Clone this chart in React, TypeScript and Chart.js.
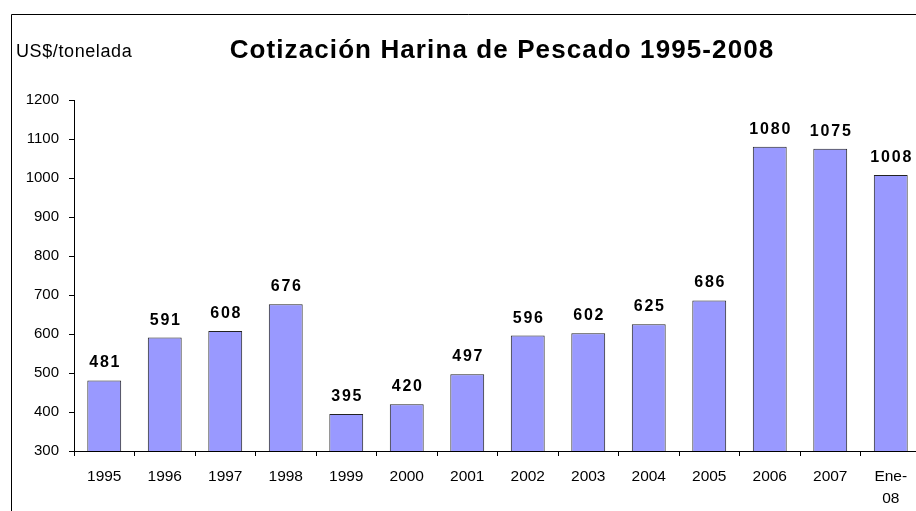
import React, { useEffect, useRef } from "react";
import { Chart, registerables } from "chart.js";

Chart.register(...registerables);

const categories: (string | string[])[] = [
  "1995", "1996", "1997", "1998", "1999", "2000", "2001",
  "2002", "2003", "2004", "2005", "2006", "2007", ["Ene-", "08"],
];
const prices: number[] = [481, 591, 608, 676, 395, 420, 497, 596, 602, 625, 686, 1080, 1075, 1008];
const yMin = 300;
const yMax = 1200;
const yStep = 100;
const titleText = "Cotización Harina de Pescado 1995-2008";
const unitText = "US$/tonelada";

const FONT = "'Liberation Sans', Arial, sans-serif";

const overlayPlugin = {
  id: "overlay",
  afterDatasetsDraw(chart: any) {
    const ctx = chart.ctx as CanvasRenderingContext2D;
    const meta = chart.getDatasetMeta(0);
    ctx.save();
    ctx.fillStyle = "#000";
    ctx.font = `bold 16px ${FONT}`;
    (ctx as any).letterSpacing = "1.8px";
    ctx.textAlign = "center";
    ctx.textBaseline = "alphabetic";
    meta.data.forEach((bar: any, i: number) => {
      ctx.fillText(String(prices[i]), bar.x + 1, bar.y - 13);
    });
    ctx.restore();
  },
  afterDraw(chart: any) {
    const ctx = chart.ctx as CanvasRenderingContext2D;
    ctx.save();
    // frame
    ctx.strokeStyle = "#000";
    ctx.lineWidth = 1;
    ctx.beginPath();
    ctx.moveTo(11.5, 520);
    ctx.lineTo(11.5, 14.5);
    ctx.lineTo(930, 14.5);
    ctx.stroke();
    // title
    ctx.fillStyle = "#000";
    ctx.font = `bold 26px ${FONT}`;
    (ctx as any).letterSpacing = "1.1px";
    ctx.textAlign = "left";
    ctx.textBaseline = "alphabetic";
    const w = ctx.measureText(titleText).width;
    ctx.fillText(titleText, 502 - w / 2, 58);
    // unit
    ctx.font = `18px ${FONT}`;
    (ctx as any).letterSpacing = "0.6px";
    ctx.fillText(unitText, 16, 57);
    ctx.restore();
  },
};

export default function App() {
  const ref = useRef<HTMLCanvasElement | null>(null);
  useEffect(() => {
    document.documentElement.style.overflow = "hidden";
    document.body.style.overflow = "hidden";
    const canvas = ref.current!;
    const chart = new Chart(canvas, {
      type: "bar",
      data: {
        labels: categories,
        datasets: [
          {
            data: prices,
            backgroundColor: "#9999FF",
            borderColor: "#222",
            borderWidth: 1,
            barPercentage: 0.56,
            categoryPercentage: 1,
          },
        ],
      },
      options: {
        responsive: false,
        animation: false,
        devicePixelRatio: 1,
        layout: { padding: { left: 0, top: 100, right: 4, bottom: 0 } },
        plugins: {
          legend: { display: false },
          title: { display: false },
          tooltip: { enabled: false },
        },
        scales: {
          x: {
            grid: {
              display: true,
              drawOnChartArea: false,
              drawTicks: true,
              tickLength: 5,
              color: "#000",
              offset: true,
            },
            border: { display: true, color: "#000", width: 1 },
            ticks: {
              color: "#000",
              font: { family: FONT, size: 15.5, lineHeight: 1.42 },
              padding: 10,
              maxRotation: 0,
              autoSkip: false,
            },
            afterFit(scale: any) {
              scale.height = 60;
            },
          },
          y: {
            min: yMin,
            max: yMax,
            grid: {
              display: true,
              drawOnChartArea: false,
              drawTicks: true,
              tickLength: 5,
              color: "#000",
            },
            border: { display: true, color: "#000", width: 1 },
            ticks: {
              stepSize: yStep,
              color: "#000",
              font: { family: FONT, size: 15 },
              padding: 10,
              callback: (v: any) => String(v),
            },
            afterFit(scale: any) {
              scale.width = 74;
            },
          },
        },
      },
      plugins: [overlayPlugin],
    });
    return () => chart.destroy();
  }, []);
  return (
    <canvas
      ref={ref}
      width={925}
      height={511}
      style={{ position: "fixed", left: 0, top: 0, width: 925, height: 511, background: "#fff" }}
    />
  );
}
